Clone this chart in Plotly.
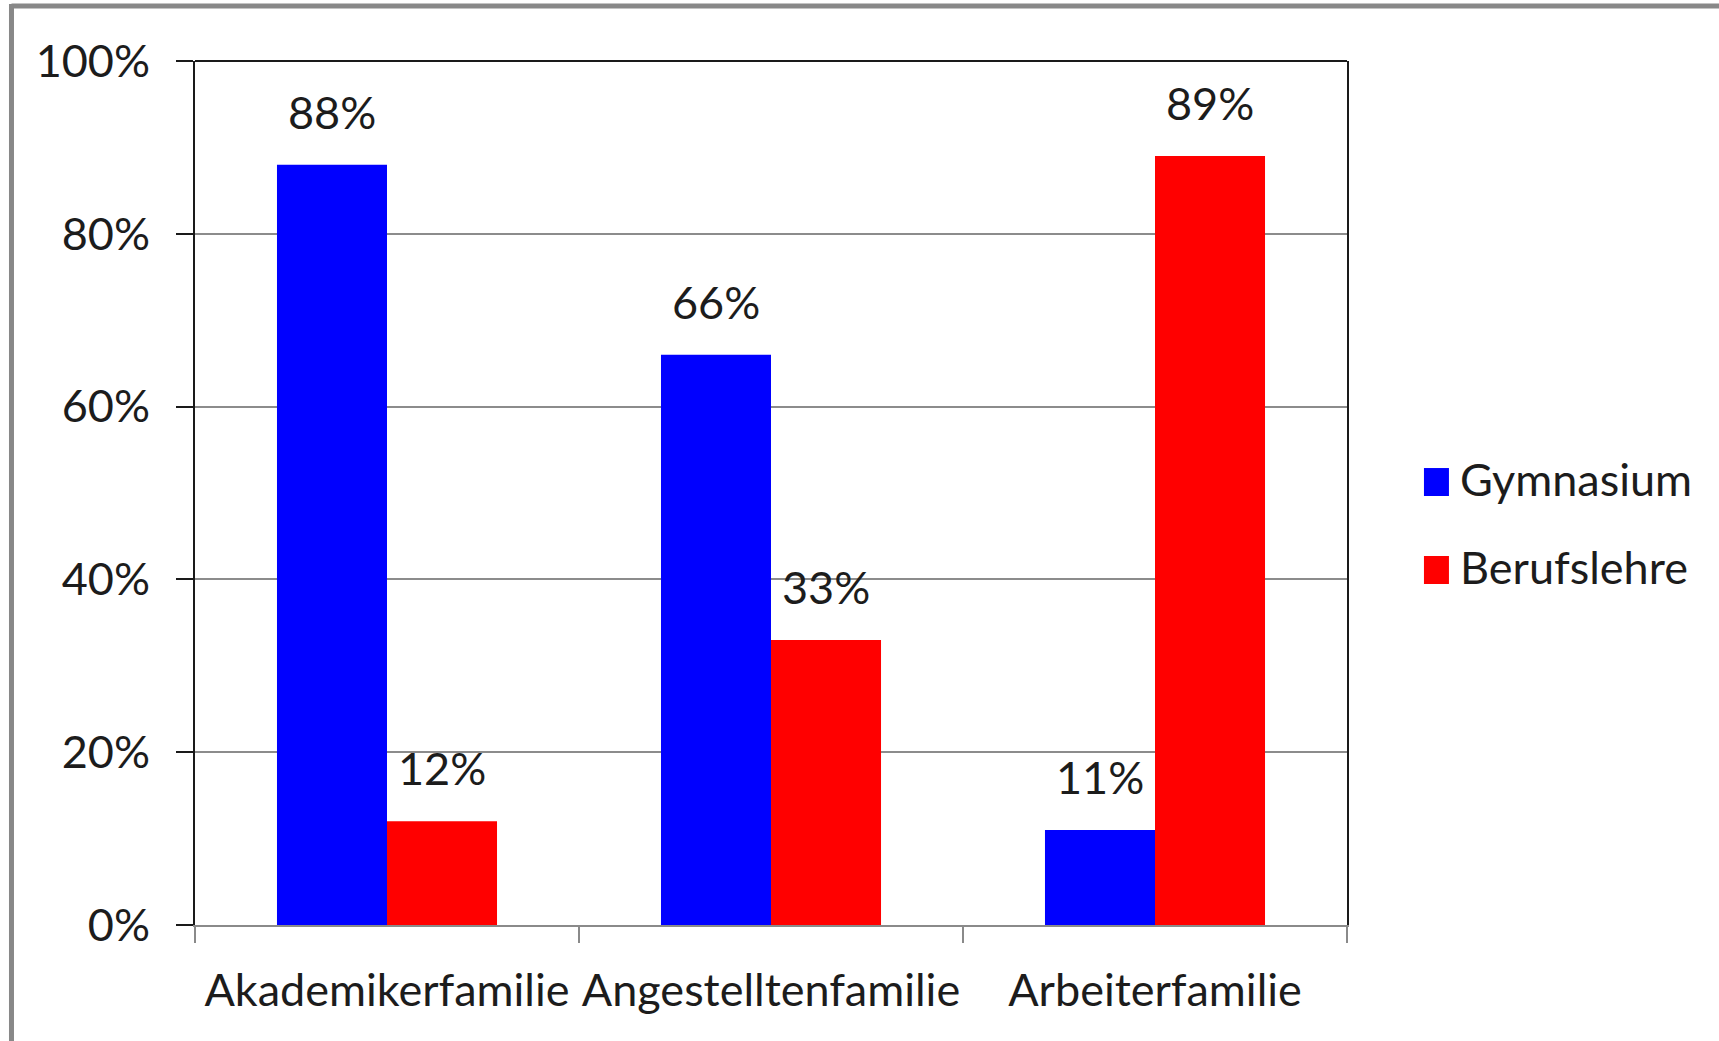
import plotly.graph_objects as go

# Share of children by family background and school path
categories = ["Akademikerfamilie", "Angestelltenfamilie", "Arbeiterfamilie"]
gymnasium = [88, 66, 11]
berufslehre = [12, 33, 89]
series_names = ["Gymnasium", "Berufslehre"]
series_colors = ["#0000FF", "#FF0000"]
y_ticks = [0, 20, 40, 60, 80, 100]
y_tick_labels = [f"{t}%" for t in y_ticks]

FONT = "Lato, Carlito, Calibri, sans-serif"
TEXT_COLOR = "#1c1c1c"
FONT_SIZE = 45

fig = go.Figure()
for name, values, color in zip(series_names, [gymnasium, berufslehre], series_colors):
    fig.add_trace(go.Bar(
        name=name,
        x=categories,
        y=values,
        marker=dict(color=color, line=dict(width=0)),
        showlegend=False,
    ))

# value labels above each bar
bar_half = 55
annotations = []
for i, values in enumerate([gymnasium, berufslehre]):
    shift = -bar_half if i == 0 else bar_half
    for cat, v in zip(categories, values):
        annotations.append(dict(
            x=cat, y=v, xref="x", yref="y",
            text=f"{v}%", showarrow=False,
            xshift=shift, yanchor="bottom", yshift=24,
            font=dict(family=FONT, size=FONT_SIZE, color=TEXT_COLOR),
        ))

# legend drawn as swatches with labels
shapes = []
legend_rows = [(0.5289, 0.4965), (0.4271, 0.3947)]
for (y_top, y_bot), name, color in zip(legend_rows, series_names, series_colors):
    shapes.append(dict(type="rect", xref="paper", yref="paper",
                       x0=1.0668, x1=1.0885, y0=y_bot, y1=y_top,
                       fillcolor=color, line=dict(width=0)))
    annotations.append(dict(
        x=1.0960, y=(y_top + y_bot) / 2 + 0.003, xref="paper", yref="paper",
        text=name, showarrow=False, xanchor="left", yanchor="middle",
        font=dict(family=FONT, size=FONT_SIZE, color=TEXT_COLOR),
    ))

# top edge of the plot frame
shapes.append(dict(type="line", xref="paper", yref="paper",
                   x0=0, x1=1, y0=1, y1=1,
                   line=dict(color="#1a1a1a", width=2)))
# outer chart border (top and left)
shapes.append(dict(type="line", xref="paper", yref="paper",
                   x0=-0.1593, x1=1.5, y0=1.0637, y1=1.0637,
                   line=dict(color="#888888", width=5)))
shapes.append(dict(type="line", xref="paper", yref="paper",
                   x0=-0.1593, x1=-0.1593, y0=1.0660, y1=-0.2,
                   line=dict(color="#888888", width=5)))

fig.update_layout(
    width=1719, height=1041,
    margin=dict(l=195, r=372, t=61, b=116, autoexpand=False),
    paper_bgcolor="white", plot_bgcolor="white",
    barmode="group", bargap=0.427, bargroupgap=0,
    font=dict(family=FONT, size=FONT_SIZE, color=TEXT_COLOR),
    annotations=annotations, shapes=shapes,
    showlegend=False,
)
fig.update_xaxes(
    showline=True, linecolor="#8a8a8a", linewidth=2,
    ticks="outside", tickson="boundaries", ticklen=16,
    tickcolor="#8a8a8a", tickwidth=2, tickangle=0, automargin=False,
    showgrid=False, ticklabelstandoff=25,
    tickfont=dict(family=FONT, size=FONT_SIZE, color=TEXT_COLOR),
)
fig.update_yaxes(
    range=[0, 100], tickmode="array", tickvals=y_ticks, ticktext=y_tick_labels,
    showgrid=True, gridcolor="#8c8c8c", gridwidth=1.5, zeroline=False,
    showline=True, linecolor="#1a1a1a", linewidth=2, mirror=True,
    ticks="outside", ticklen=17, tickcolor="#1a1a1a", tickwidth=2,
    ticklabelstandoff=17, automargin=False,
    tickfont=dict(family=FONT, size=FONT_SIZE, color=TEXT_COLOR),
)

fig.write_html("out.html")
